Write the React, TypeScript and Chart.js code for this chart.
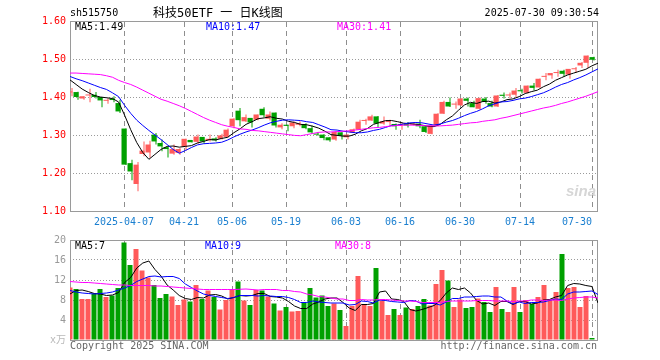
import React, { useEffect, useRef } from 'react';
import { Chart, registerables } from 'chart.js';

Chart.register(...registerables);

const dates = [
  '2025-03-24','2025-03-25','2025-03-26','2025-03-27','2025-03-28','2025-03-31',
  '2025-04-01','2025-04-02','2025-04-03','2025-04-07','2025-04-08','2025-04-09','2025-04-10','2025-04-11',
  '2025-04-14','2025-04-15','2025-04-16','2025-04-17','2025-04-18',
  '2025-04-21','2025-04-22','2025-04-23','2025-04-24','2025-04-25',
  '2025-04-28','2025-04-29','2025-04-30',
  '2025-05-06','2025-05-07','2025-05-08','2025-05-09',
  '2025-05-12','2025-05-13','2025-05-14','2025-05-15','2025-05-16',
  '2025-05-19','2025-05-20','2025-05-21','2025-05-22','2025-05-23',
  '2025-05-26','2025-05-27','2025-05-28','2025-05-29','2025-05-30',
  '2025-06-03','2025-06-04','2025-06-05','2025-06-06',
  '2025-06-09','2025-06-10','2025-06-11','2025-06-12','2025-06-13',
  '2025-06-16','2025-06-17','2025-06-18','2025-06-19','2025-06-20',
  '2025-06-23','2025-06-24','2025-06-25','2025-06-26','2025-06-27',
  '2025-06-30',
  '2025-07-01','2025-07-02','2025-07-03','2025-07-04',
  '2025-07-07','2025-07-08','2025-07-09','2025-07-10','2025-07-11',
  '2025-07-14','2025-07-15','2025-07-16','2025-07-17','2025-07-18',
  '2025-07-21','2025-07-22','2025-07-23','2025-07-24','2025-07-25',
  '2025-07-28','2025-07-29','2025-07-30',
];

const open = [
  1.412,1.413,1.396,1.404,1.406,1.400,1.390,1.396,1.384,1.317,
  1.226,1.171,1.250,1.254,1.301,1.279,1.268,1.251,1.253,1.269,
  1.287,1.282,1.295,1.286,1.291,1.290,1.295,1.323,1.364,1.336,
  1.345,1.340,1.369,1.343,1.359,1.320,1.327,1.323,1.327,1.329,
  1.318,1.303,1.301,1.294,1.288,1.307,1.294,1.306,1.314,1.337,
  1.338,1.349,1.330,1.334,1.329,1.325,1.329,1.327,1.330,1.323,
  1.303,1.325,1.356,1.387,1.380,1.378,1.396,1.384,1.369,1.396,
  1.384,1.375,1.406,1.404,1.406,1.418,1.411,1.430,1.425,1.453,
  1.457,1.463,1.469,1.459,1.473,1.483,1.490,1.505,
];

const high = [
  1.424,1.414,1.402,1.422,1.413,1.400,1.397,1.402,1.393,1.317,
  1.235,1.229,1.283,1.285,1.305,1.288,1.268,1.275,1.266,1.290,
  1.287,1.301,1.295,1.301,1.294,1.303,1.317,1.344,1.371,1.354,
  1.345,1.354,1.373,1.362,1.359,1.331,1.327,1.336,1.336,1.331,
  1.325,1.307,1.302,1.295,1.309,1.307,1.302,1.317,1.340,1.343,
  1.353,1.350,1.349,1.340,1.330,1.331,1.334,1.333,1.340,1.323,
  1.325,1.357,1.390,1.399,1.388,1.397,1.399,1.390,1.399,1.400,
  1.390,1.405,1.412,1.412,1.424,1.422,1.430,1.437,1.449,1.463,
  1.463,1.472,1.472,1.474,1.479,1.492,1.509,1.506,
];

const low = [
  1.402,1.393,1.393,1.386,1.396,1.373,1.382,1.386,1.358,1.221,
  1.181,1.152,1.244,1.240,1.275,1.257,1.241,1.248,1.248,1.259,
  1.280,1.277,1.277,1.283,1.283,1.288,1.294,1.318,1.323,1.334,
  1.320,1.339,1.347,1.338,1.320,1.315,1.310,1.318,1.323,1.315,
  1.303,1.298,1.286,1.282,1.285,1.288,1.288,1.305,1.313,1.327,
  1.337,1.320,1.327,1.325,1.314,1.314,1.320,1.325,1.318,1.305,
  1.302,1.323,1.355,1.374,1.369,1.377,1.375,1.373,1.367,1.382,
  1.373,1.374,1.396,1.397,1.400,1.409,1.409,1.418,1.425,1.444,
  1.448,1.453,1.454,1.448,1.463,1.476,1.476,1.496,
];

const close = [
  1.413,1.400,1.402,1.405,1.400,1.391,1.391,1.392,1.362,1.222,
  1.204,1.222,1.259,1.275,1.283,1.270,1.263,1.263,1.263,1.290,
  1.281,1.296,1.283,1.290,1.286,1.299,1.314,1.343,1.339,1.347,
  1.333,1.354,1.352,1.354,1.325,1.327,1.324,1.333,1.331,1.318,
  1.307,1.301,1.292,1.286,1.308,1.298,1.301,1.315,1.335,1.338,
  1.349,1.330,1.336,1.336,1.323,1.329,1.325,1.329,1.323,1.308,
  1.325,1.356,1.387,1.375,1.382,1.396,1.390,1.373,1.397,1.387,
  1.375,1.404,1.403,1.406,1.417,1.415,1.430,1.424,1.448,1.454,
  1.463,1.465,1.461,1.474,1.475,1.490,1.509,1.498,
];

const ma5 = [
  1.445,1.433,1.421,1.412,1.404,1.400,1.398,1.396,1.387,1.352,
  1.314,1.280,1.254,1.236,1.249,1.262,1.270,1.271,1.268,1.270,
  1.272,1.279,1.283,1.288,1.287,1.291,1.294,1.306,1.316,1.328,
  1.335,1.343,1.345,1.348,1.344,1.342,1.336,1.333,1.328,1.327,
  1.323,1.318,1.310,1.301,1.299,1.297,1.297,1.302,1.311,1.317,
  1.328,1.333,1.338,1.338,1.335,1.331,1.330,1.328,1.326,1.323,
  1.322,1.328,1.340,1.350,1.365,1.379,1.386,1.383,1.388,1.389,
  1.384,1.387,1.393,1.395,1.401,1.409,1.414,1.418,1.427,1.434,
  1.444,1.451,1.458,1.463,1.468,1.473,1.482,1.489,
];

const ma10 = [
  1.454,1.448,1.443,1.437,1.431,1.425,1.420,1.411,1.401,1.378,
  1.357,1.339,1.325,1.312,1.300,1.288,1.275,1.262,1.252,1.259,
  1.267,1.274,1.277,1.278,1.279,1.281,1.287,1.295,1.302,1.308,
  1.313,1.319,1.326,1.332,1.336,1.339,1.340,1.339,1.338,1.335,
  1.333,1.327,1.321,1.314,1.313,1.310,1.308,1.306,1.306,1.308,
  1.312,1.315,1.320,1.325,1.326,1.329,1.332,1.333,1.332,1.329,
  1.326,1.329,1.334,1.338,1.344,1.351,1.357,1.362,1.369,1.377,
  1.382,1.387,1.388,1.391,1.395,1.397,1.401,1.406,1.411,1.418,
  1.426,1.433,1.438,1.445,1.451,1.458,1.466,1.474,
];

const ma30 = [
  1.463,1.463,1.462,1.461,1.460,1.459,1.456,1.452,1.444,1.438,
  1.433,1.426,1.418,1.410,1.402,1.394,1.389,1.383,1.377,1.370,
  1.362,1.354,1.346,1.339,1.333,1.327,1.323,1.320,1.316,1.315,
  1.312,1.311,1.309,1.307,1.305,1.303,1.301,1.299,1.298,1.301,
  1.304,1.307,1.308,1.308,1.309,1.310,1.311,1.313,1.315,1.317,
  1.319,1.320,1.322,1.324,1.325,1.326,1.326,1.326,1.325,1.324,
  1.324,1.324,1.325,1.326,1.328,1.330,1.332,1.333,1.336,1.338,
  1.340,1.344,1.347,1.351,1.355,1.359,1.363,1.367,1.371,1.374,
  1.378,1.383,1.387,1.392,1.397,1.402,1.408,1.414,
];

const volume = [
  10.5,10.2,8.2,8.2,9.3,10.2,8.6,8.9,10.4,19.5,
  15.0,18.2,13.9,12.5,11.0,8.4,9.2,8.7,7.0,8.1,
  7.7,11.0,8.2,9.9,8.6,6.1,8.0,10.1,11.7,7.9,
  7.0,10.0,9.9,8.7,7.3,5.9,6.6,5.7,5.8,7.6,
  10.4,8.5,8.9,6.8,7.3,6.0,2.8,6.8,12.8,7.1,
  6.8,14.4,7.9,5.0,6.2,5.0,6.5,6.2,6.8,8.2,
  6.9,11.2,14.0,11.9,6.6,8.1,6.4,6.6,8.3,7.6,
  5.6,10.6,6.2,5.6,10.6,5.6,8.0,7.2,8.6,11.0,
  8.1,9.6,17.2,10.4,10.6,6.6,8.8,0.4,
];

const volMa5 = [
  9.2,9.9,10.0,9.7,9.3,9.2,8.9,9.0,9.5,11.5,
  12.5,14.4,15.4,15.8,14.1,12.8,11.0,10.0,8.9,8.3,
  8.1,8.5,8.4,9.0,9.1,8.8,8.2,8.5,8.9,8.8,
  8.9,9.3,9.3,8.7,8.6,8.4,7.7,6.8,6.3,6.3,
  7.2,7.6,8.2,8.4,8.4,7.5,6.4,5.9,7.1,7.1,
  7.3,9.6,9.8,8.2,8.1,7.7,6.1,5.8,6.1,6.5,
  6.9,7.9,9.4,10.4,10.1,10.4,9.4,7.9,7.2,7.4,
  6.9,7.7,7.7,7.1,7.7,7.7,7.2,7.4,8.0,8.1,
  8.6,8.9,10.9,11.3,11.2,10.9,10.7,7.4,
];

const volMa10 = [
  9.9,9.6,9.4,9.3,9.2,9.3,9.4,9.6,10.0,10.4,
  10.9,11.7,12.2,12.7,12.8,12.6,12.7,12.7,12.3,11.2,
  10.5,9.8,9.2,8.9,8.7,8.5,8.3,8.5,8.9,8.9,
  8.9,8.8,8.9,8.8,8.7,8.7,8.5,8.1,7.5,7.5,
  7.8,7.6,7.5,7.4,7.4,7.4,7.0,7.1,7.8,7.7,
  7.4,8.0,7.9,7.7,7.6,7.5,7.9,7.8,7.2,7.3,
  7.3,7.0,7.6,8.3,8.3,8.6,8.6,8.7,8.8,8.8,
  8.6,8.6,7.8,7.2,7.6,7.3,7.5,7.5,7.6,7.9,
  8.2,8.1,9.2,9.6,9.6,9.7,9.8,9.1,
];

const volMa30 = [
  11.7,11.6,11.5,11.5,11.4,11.3,11.2,11.1,11.0,11.0,
  10.9,10.9,10.9,10.9,10.8,10.8,10.7,10.6,10.5,10.4,
  10.3,10.2,10.1,10.1,10.1,10.1,10.1,10.1,10.15,10.2,
  10.1,10.0,10.1,10.1,10.1,9.9,9.9,9.7,9.6,9.2,
  9.0,8.7,8.6,8.4,8.2,8.2,7.9,7.9,8.1,8.0,
  8.0,8.1,8.1,8.0,7.9,7.8,7.8,7.7,7.5,7.5,
  7.5,7.5,7.7,7.8,7.8,7.8,7.8,7.9,7.9,7.9,
  7.8,7.8,7.8,7.7,7.8,7.8,8.0,8.0,7.9,8.0,
  8.0,7.9,8.2,8.4,8.5,8.6,8.6,8.4,
];

const tickDates = ['2025-04-07','2025-04-21','2025-05-06','2025-05-19','2025-06-03','2025-06-16','2025-06-30','2025-07-14','2025-07-30'];
const tickLabels = ['2025-04-07','04-21','05-06','05-19','06-03','06-16','06-30','07-14','07-30     '];
const priceTicks = [1.1, 1.2, 1.3, 1.4, 1.5, 1.6];
const volumeTicks = [0, 4, 8, 12, 16, 20];

const UP_COLOR = '#ff5a5a';
const DOWN_COLOR = '#00a000';
const MA5_COLOR = '#000000';
const MA10_COLOR = '#0000ff';
const MA30_COLOR = '#ff00ff';
const MONO = "'DejaVu Sans Mono', 'Noto Sans CJK SC', monospace";

// vertical dashed grid lines at the given x values, plus the plot frame
const makeGridFrame = (tickValues: number[]) => ({
  id: 'gridframe',
  beforeDatasetsDraw(chart: any) {
    const ctx = chart.ctx;
    const a = chart.chartArea;
    const xs = chart.scales['x'];
    ctx.save();
    ctx.lineWidth = 1;
    ctx.strokeStyle = '#8e8e8e';
    ctx.setLineDash([5, 4]);
    for (let k = 0; k < tickValues.length; k++) {
      const raw = xs ? xs.getPixelForValue(tickValues[k]) : NaN;
      const px = Math.round(raw) + 0.5;
      ctx.beginPath();
      ctx.moveTo(px, a.top + 1);
      ctx.lineTo(px, a.bottom);
      ctx.stroke();
    }
    ctx.setLineDash([]);
    ctx.strokeStyle = '#9a9a9a';
    ctx.strokeRect(a.left + 0.5, a.top + 0.5, a.right - a.left - 1, a.bottom - a.top);
    ctx.restore();
  },
});

export default function App() {
  const priceRef = useRef<HTMLCanvasElement>(null);
  const volRef = useRef<HTMLCanvasElement>(null);

  useEffect(() => {
    const n = dates.length;
    const slotX = (i: number) => i + 5 / 12;
    const colors = close.map((c, i) => (c >= open[i] ? UP_COLOR : DOWN_COLOR));
    const tickIdx = tickDates.map((d) => dates.indexOf(d));
    const setXTicks = (s: any) => {
      s.ticks = tickIdx.map((v) => ({ value: v }));
    };
    const lineDs = (arr: number[], color: string) => ({
      type: 'line',
      data: arr.map((v, j) => ({ x: j, y: v })),
      xAxisID: 'x2',
      borderColor: color,
      borderWidth: 1,
      pointRadius: 0,
      tension: 0,
      fill: false,
      order: 1,
    });
    const xAxis = (showLabels: boolean, h: number) => ({
      type: 'linear',
      min: 0,
      max: n,
      bounds: 'data',
      offset: false,
      afterBuildTicks: setXTicks,
      afterFit: (s: any) => {
        s.height = h;
      },
      grid: { display: false, drawTicks: false, offset: false },
      border: { display: false },
      ticks: {
        display: showLabels,
        autoSkip: false,
        maxRotation: 0,
        padding: 5,
        color: '#1a7fd0',
        font: { family: MONO, size: 10 },
        callback: (v: any) => {
          const k = tickIdx.indexOf(v);
          return k >= 0 ? tickLabels[k] : '';
        },
      },
    });
    const x2Axis = {
      type: 'linear',
      min: 0,
      max: n - 1,
      bounds: 'data',
      offset: false,
      grid: { offset: false },
      display: false,
    };
    const common = {
      responsive: false,
      animation: false,
      events: [],
      devicePixelRatio: 1,
      plugins: { legend: { display: false }, tooltip: { enabled: false } },
    };

    const priceChart = new Chart(priceRef.current as HTMLCanvasElement, {
      type: 'bar',
      data: {
        datasets: [
          {
            data: dates.map((_, i) => ({ x: slotX(i), y: [low[i], high[i]] })),
            backgroundColor: colors,
            barThickness: 1,
            stack: 'k',
            order: 3,
            borderWidth: 0,
            inflateAmount: 0,
          },
          {
            data: dates.map((_, i) => ({ x: slotX(i), y: [open[i], close[i]] })),
            backgroundColor: colors,
            barThickness: 5,
            minBarLength: 1,
            stack: 'k',
            order: 2,
            borderWidth: 0,
            inflateAmount: 0,
          },
          lineDs(ma30, MA30_COLOR),
          lineDs(ma10, MA10_COLOR),
          lineDs(ma5, MA5_COLOR),
        ] as any,
      },
      options: {
        ...common,
        layout: { padding: { left: 0, right: 62, top: 21, bottom: 0 } },
        scales: {
          x: xAxis(true, 24),
          x2: x2Axis,
          y: {
            type: 'linear',
            min: 1.1,
            max: 1.6,
            bounds: 'data',
            stacked: false,
            afterBuildTicks: (s: any) => {
              s.ticks = priceTicks.map((v) => ({ value: v }));
            },
            afterFit: (s: any) => {
              s.width = 70;
            },
            grid: { color: '#9a9a9a', lineWidth: 1, drawTicks: false },
            border: { display: false, dash: [1, 2] },
            ticks: {
              padding: 4,
              color: '#ff0000',
              font: { family: MONO, size: 10 },
              callback: (v: any) => Number(v).toFixed(2),
            },
          },
        } as any,
      } as any,
      plugins: [makeGridFrame(tickIdx)],
    });

    const volChart = new Chart(volRef.current as HTMLCanvasElement, {
      type: 'bar',
      data: {
        datasets: [
          {
            data: dates.map((_, i) => ({ x: slotX(i), y: volume[i] })),
            backgroundColor: colors,
            barThickness: 5,
            order: 2,
            borderWidth: 0,
            inflateAmount: 0,
          },
          lineDs(volMa30, MA30_COLOR),
          lineDs(volMa10, MA10_COLOR),
          lineDs(volMa5, MA5_COLOR),
        ] as any,
      },
      options: {
        ...common,
        layout: { padding: { left: 0, right: 62, top: 10, bottom: 0 } },
        scales: {
          x: xAxis(false, 20),
          x2: x2Axis,
          y: {
            type: 'linear',
            min: 0,
            max: 20,
            bounds: 'data',
            stacked: false,
            afterBuildTicks: (s: any) => {
              s.ticks = volumeTicks.map((v) => ({ value: v }));
            },
            afterFit: (s: any) => {
              s.width = 70;
            },
            grid: { color: '#9a9a9a', lineWidth: 1, drawTicks: false },
            border: { display: false, dash: [1, 2] },
            ticks: {
              padding: 4,
              color: (c: any) => (c.tick && c.tick.value === 0 ? '#b8b8b8' : '#999999'),
              font: { family: MONO, size: 10 },
              callback: (v: any) => (v === 0 ? 'x万' : String(v)),
            },
          },
        } as any,
      } as any,
      plugins: [makeGridFrame(tickIdx)],
    });

    return () => {
      priceChart.destroy();
      volChart.destroy();
    };
  }, []);

  const last = (a: number[]) => a[a.length - 1];
  const t = (style: any, text: string) => (
    <div
      style={{
        position: 'absolute',
        fontFamily: MONO,
        fontSize: 10,
        lineHeight: '12px',
        whiteSpace: 'pre',
        ...style,
      }}
    >
      {text}
    </div>
  );

  return (
    <div
      style={{
        position: 'fixed',
        left: 0,
        top: 0,
        width: 660,
        height: 360,
        background: '#ffffff',
        overflow: 'hidden',
      }}
    >
      <canvas ref={priceRef} width={660} height={235} style={{ position: 'absolute', left: 0, top: 0 }} />
      <canvas ref={volRef} width={660} height={130} style={{ position: 'absolute', left: 0, top: 230 }} />
      {t({ left: 70, top: 7, color: '#000' }, 'sh515750')}
      {t({ left: 153, top: 5, fontSize: 12, lineHeight: '16px', color: '#000' }, '科技50ETF 一 日K线图')}
      {t({ right: 61, top: 7, color: '#000' }, '2025-07-30 09:30:54')}
      {t({ left: 75, top: 21, color: MA5_COLOR }, `MA5:${last(ma5).toFixed(2)}`)}
      {t({ left: 206, top: 21, color: MA10_COLOR }, `MA10:${last(ma10).toFixed(2)}`)}
      {t({ left: 337, top: 21, color: MA30_COLOR }, `MA30:${last(ma30).toFixed(2)}`)}
      {t({ left: 75, top: 240, color: MA5_COLOR }, `MA5:${last(volMa5).toFixed(0)}`)}
      {t({ left: 205, top: 240, color: MA10_COLOR }, `MA10:${last(volMa10).toFixed(0)}`)}
      {t({ left: 335, top: 240, color: MA30_COLOR }, `MA30:${last(volMa30).toFixed(0)}`)}
      {t({ left: 70, top: 340, color: '#666' }, 'Copyright 2025 SINA.COM')}
      {t({ right: 63, top: 340, color: '#666' }, 'http://finance.sina.com.cn')}
      {t(
        {
          left: 566,
          top: 183,
          fontFamily: "'Liberation Sans', sans-serif",
          fontSize: 15,
          lineHeight: '16px',
          fontWeight: 'bold',
          fontStyle: 'italic',
          color: '#d6d6d6',
        },
        'sina'
      )}
    </div>
  );
}
